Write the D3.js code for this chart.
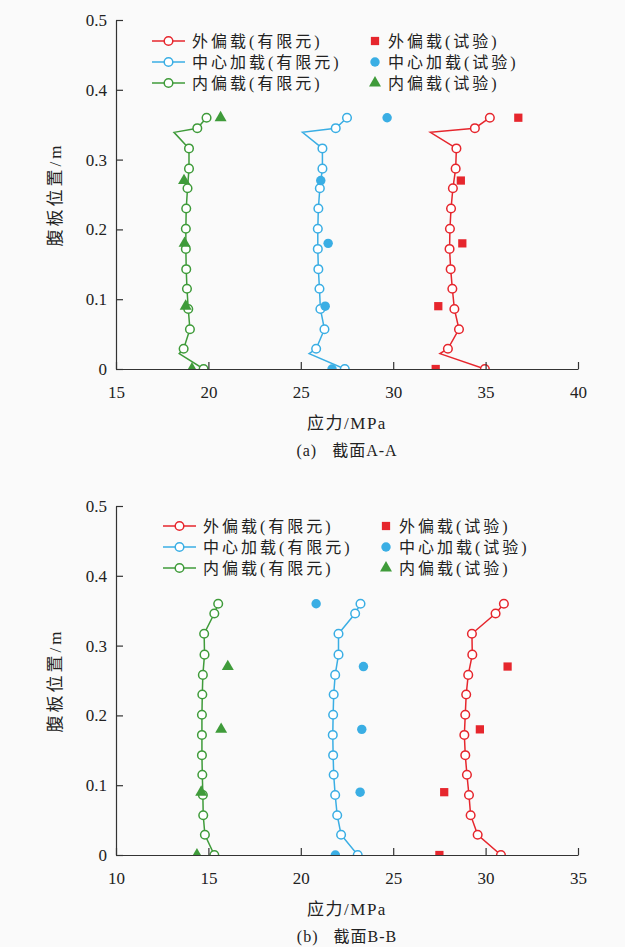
<!DOCTYPE html>
<html>
<head>
<meta charset="utf-8">
<script src="https://cdn.jsdelivr.net/npm/d3@7"></script>
<style>
  html, body { margin: 0; padding: 0; background: #fafafa; }
  svg { display: block; }
  text { fill: #222; }
</style>
</head>
<body>
<svg id="chart" width="625" height="947"></svg>
<script>
// ---- Section A-A : finite-element nodes (heights in m, stress in MPa) ----
const heightsA   = [0, 0.022, 0.029, 0.057, 0.086, 0.115, 0.143, 0.172, 0.201, 0.230, 0.259, 0.287, 0.316, 0.339, 0.345, 0.360];
const markerA    = [1, 0, 1, 1, 1, 1, 1, 1, 1, 1, 1, 1, 1, 0, 1, 1];
const outerFeA   = [34.96, 32.53, 32.96, 33.56, 33.31, 33.20, 33.11, 33.05, 33.07, 33.13, 33.23, 33.38, 33.42, 32.01, 34.42, 35.23];
const centerFeA  = [27.38, 25.45, 25.83, 26.28, 26.06, 26.01, 25.95, 25.92, 25.92, 25.95, 26.03, 26.17, 26.17, 25.09, 26.89, 27.50];
const innerFeA   = [19.74, 18.42, 18.66, 19.00, 18.91, 18.84, 18.80, 18.78, 18.78, 18.80, 18.87, 18.95, 18.95, 18.14, 19.40, 19.90];

// ---- Section A-A : test gauges ----
const testHeights  = [0, 0.09, 0.18, 0.27, 0.36];
const outerTestA   = [32.30, 32.44, 33.74, 33.66, 36.77];
const centerTestA  = [26.69, 26.32, 26.48, 26.08, 29.67];
const innerTestA   = [19.11, 18.77, 18.71, 18.68, 20.66];

// ---- Section B-B : finite-element nodes ----
const heightsB   = [0, 0.029, 0.057, 0.086, 0.115, 0.143, 0.172, 0.201, 0.230, 0.258, 0.287, 0.317, 0.346, 0.360];
const markerB    = [1, 1, 1, 1, 1, 1, 1, 1, 1, 1, 1, 1, 1, 1];
const outerFeB   = [30.83, 29.57, 29.19, 29.10, 28.99, 28.90, 28.85, 28.90, 28.95, 29.06, 29.28, 29.26, 30.54, 30.99];
const centerFeB  = [23.08, 22.18, 21.97, 21.86, 21.78, 21.75, 21.73, 21.75, 21.78, 21.86, 22.04, 22.04, 22.94, 23.23];
const innerFeB   = [15.32, 14.81, 14.72, 14.70, 14.67, 14.65, 14.65, 14.65, 14.67, 14.70, 14.79, 14.77, 15.32, 15.53];

// ---- Section B-B : test gauges (no reading at top for outer / inner) ----
const outerTestB   = [27.50, 27.76, 29.69, 31.19, null];
const centerTestB  = [21.87, 23.21, 23.30, 23.39, 20.83];
const innerTestB   = [14.38, 14.61, 15.69, 16.05, null];

// ---- Axis ticks and labels ----
const yTicks = [0, 0.1, 0.2, 0.3, 0.4, 0.5];
const xTicksA = [15, 20, 25, 30, 35, 40];
const xTicksB = [10, 15, 20, 25, 30, 35];
const feLabels   = ["外偏载(有限元)", "中心加载(有限元)", "内偏载(有限元)"];
const testLabels = ["外偏载(试验)", "中心加载(试验)", "内偏载(试验)"];
const yTitle = "腹板位置/m";
const xTitle = "应力/MPa";

const RED = "#e6262d", BLUE = "#3aaee4", GREEN = "#3f9b3a";
const colors = [RED, BLUE, GREEN];
const testShapes = [d3.symbolSquare, d3.symbolCircle, d3.symbolTriangle];
const testSizes = [68, 70, 62];

const SERIF = "'Liberation Serif', 'Times New Roman', serif";
const CJK = "'Noto Sans CJK SC', sans-serif";

// Write mixed Chinese / Latin text as separate runs so Latin glyphs stay serif.
function richText(sel, str) {
  const runs = str.match(/[\u3000-\u9fff\uff00-\uffef]+|[^\u3000-\u9fff\uff00-\uffef]+/g) || [];
  runs.forEach(r => {
    const isCjk = /[\u3000-\u9fff\uff00-\uffef]/.test(r);
    sel.append("tspan")
      .style("font-family", isCjk ? CJK : SERIF)
      .text(r);
  });
  return sel;
}

const svg = d3.select("#chart");

function drawPanel(cfg) {
  const left = 116, right = 578;
  const x = d3.scaleLinear().domain(cfg.xDomain).range([left, right]);
  const y = d3.scaleLinear().domain([0, 0.5]).range([cfg.bottom, cfg.top]);
  const g = svg.append("g");

  const clipId = "clip-" + cfg.id;
  g.append("clipPath").attr("id", clipId)
    .append("rect").attr("x", left).attr("y", cfg.top - 10)
    .attr("width", right - left + 10).attr("height", cfg.bottom - cfg.top + 10);

  const plot = g.append("g").attr("clip-path", `url(#${clipId})`);

  // finite-element curves with hollow circle markers
  cfg.fe.forEach((vals, i) => {
    const pts = vals.map((v, k) => ({ v, h: cfg.heights[k], m: cfg.marks[k] }));
    plot.append("path")
      .datum(pts)
      .attr("fill", "none")
      .attr("stroke", colors[i])
      .attr("stroke-width", 1.5)
      .attr("d", d3.line().x(d => x(d.v)).y(d => y(d.h)));
    plot.selectAll(null)
      .data(pts.filter(d => d.m))
      .join("circle")
      .attr("cx", d => x(d.v)).attr("cy", d => y(d.h))
      .attr("r", 4.3)
      .attr("fill", "#fff")
      .attr("stroke", colors[i])
      .attr("stroke-width", 1.5);
  });

  // test readings as filled symbols
  cfg.test.forEach((vals, i) => {
    const pts = vals.map((v, k) => ({ v, h: testHeights[k] })).filter(d => d.v !== null);
    plot.selectAll(null)
      .data(pts)
      .join("path")
      .attr("transform", d => `translate(${x(d.v)},${y(d.h)})`)
      .attr("d", d3.symbol().type(testShapes[i]).size(testSizes[i]))
      .attr("fill", colors[i]);
  });

  // axes with inward ticks
  const xAxis = g.append("g")
    .attr("transform", `translate(0,${cfg.bottom})`)
    .call(d3.axisBottom(x).tickValues(cfg.xTicks).tickSizeInner(-7).tickSizeOuter(0).tickPadding(17));
  const yAxis = g.append("g")
    .attr("transform", `translate(${left},0)`)
    .call(d3.axisLeft(y).tickValues(yTicks).tickSizeInner(-7).tickSizeOuter(0).tickPadding(9)
      .tickFormat(d => d === 0 ? "0" : d3.format(".1f")(d)));
  [xAxis, yAxis].forEach(a => {
    a.select(".domain").attr("stroke", "#333").attr("stroke-width", 1.2);
    a.selectAll(".tick line").attr("stroke", "#333").attr("stroke-width", 1.2);
    a.selectAll(".tick text").attr("font-size", 17).attr("fill", "#222")
      .style("font-family", SERIF);
  });

  // axis titles and caption
  const cx = (left + right) / 2;
  richText(g.append("text")
    .attr("x", cx).attr("y", cfg.bottom + 60)
    .attr("text-anchor", "middle").attr("font-size", 17)
    .attr("letter-spacing", 1.5), xTitle);
  richText(g.append("text")
    .attr("transform", `translate(61,${(cfg.top + cfg.bottom) / 2}) rotate(-90)`)
    .attr("text-anchor", "middle").attr("font-size", 17)
    .attr("letter-spacing", 3), yTitle);
  richText(g.append("text")
    .attr("x", cx).attr("y", cfg.bottom + 87)
    .attr("text-anchor", "middle").attr("font-size", 16)
    .attr("letter-spacing", 1)
    .style("white-space", "pre"), cfg.caption);

  // legend
  const lg = g.append("g");
  feLabels.forEach((lab, i) => {
    const ly = cfg.legendY + i * 21;
    lg.append("line")
      .attr("x1", cfg.legendX).attr("x2", cfg.legendX + 33)
      .attr("y1", ly).attr("y2", ly)
      .attr("stroke", colors[i]).attr("stroke-width", 1.5);
    lg.append("circle")
      .attr("cx", cfg.legendX + 16.5).attr("cy", ly).attr("r", 4.3)
      .attr("fill", "#fff").attr("stroke", colors[i]).attr("stroke-width", 1.5);
    richText(lg.append("text")
      .attr("x", cfg.legendX + 40).attr("y", ly + 6)
      .attr("font-size", 16).attr("letter-spacing", 3), lab);
  });
  testLabels.forEach((lab, i) => {
    const ly = cfg.legendY + i * 21;
    lg.append("path")
      .attr("transform", `translate(${cfg.legendX2},${ly})`)
      .attr("d", d3.symbol().type(testShapes[i]).size(testSizes[i]))
      .attr("fill", colors[i]);
    richText(lg.append("text")
      .attr("x", cfg.legendX2 + 13).attr("y", ly + 6)
      .attr("font-size", 16).attr("letter-spacing", 3), lab);
  });
}

drawPanel({
  id: "a", top: 20, bottom: 369, xDomain: [15, 40], xTicks: xTicksA,
  heights: heightsA, marks: markerA,
  fe: [outerFeA, centerFeA, innerFeA],
  test: [outerTestA, centerTestA, innerTestA],
  caption: "(a)   截面A-A",
  legendX: 152, legendX2: 375, legendY: 41
});

drawPanel({
  id: "b", top: 506, bottom: 855, xDomain: [10, 35], xTicks: xTicksB,
  heights: heightsB, marks: markerB,
  fe: [outerFeB, centerFeB, innerFeB],
  test: [outerTestB, centerTestB, innerTestB],
  caption: "(b)   截面B-B",
  legendX: 163, legendX2: 386, legendY: 526
});
</script>
</body>
</html>
